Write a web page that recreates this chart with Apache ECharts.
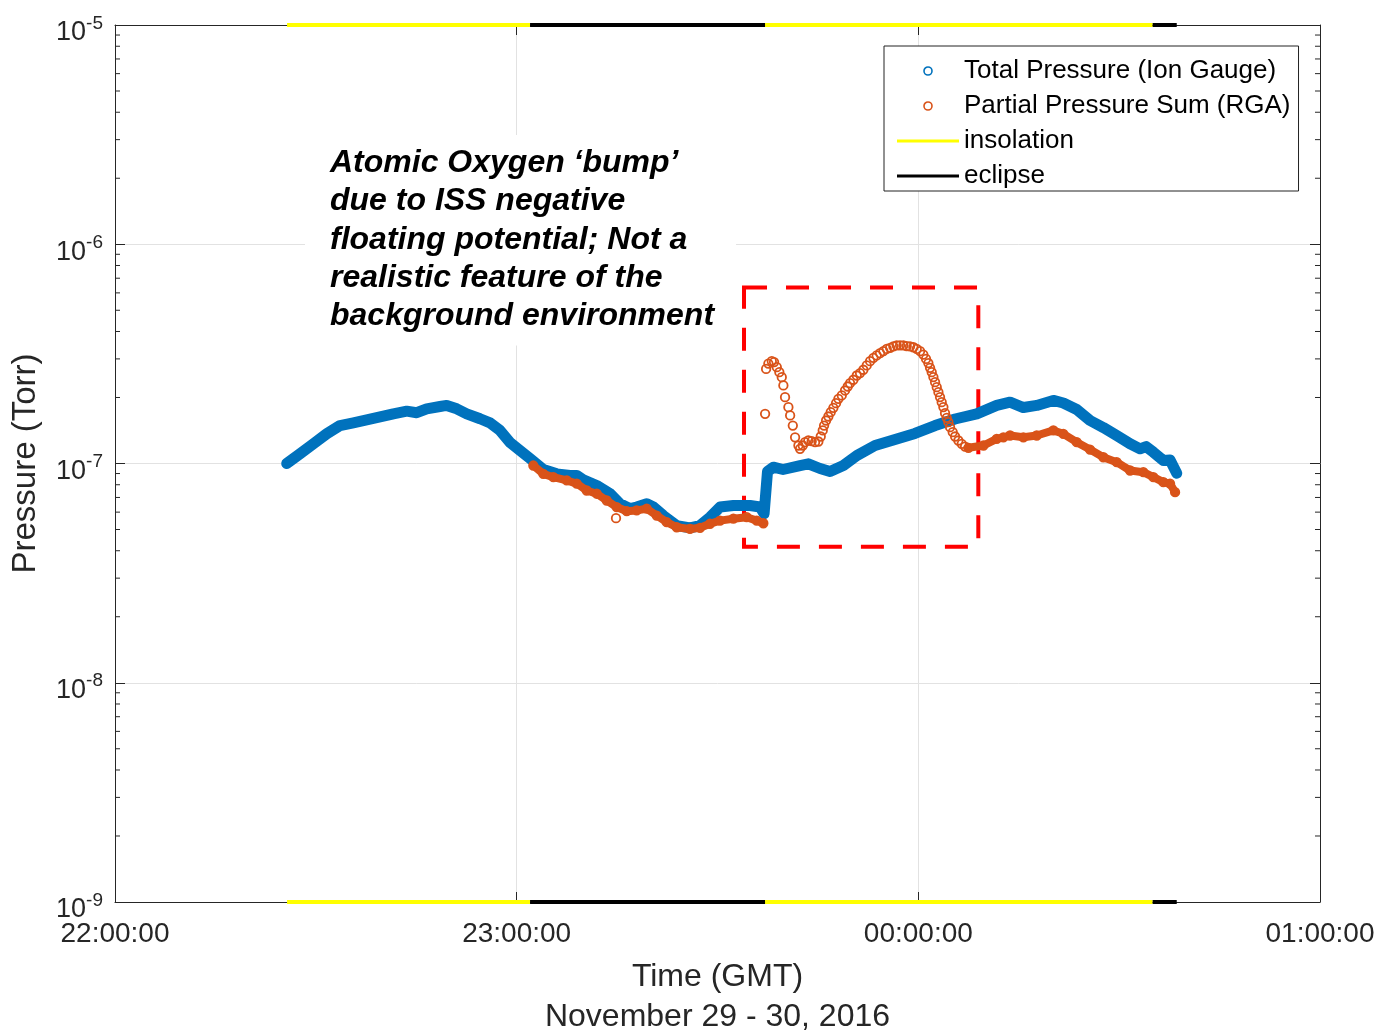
<!DOCTYPE html>
<html>

<head>
    <meta charset="utf-8" />
    <script src="https://cdn.jsdelivr.net/npm/echarts@6/dist/echarts.min.js"></script>
    <style>
        html, body { margin: 0; padding: 0; background: #fff; }
    </style>
</head>

<body>
    <div id="main" style="width: 1382px;height:1031px;"></div>
    <script type="text/javascript">
        const FONT = '"Liberation Sans", Arial, Helvetica, sans-serif';
        const AXIS_COLOR = '#262626';

        // x values are minutes after 22:00:00 GMT (Nov 29)
        const xTickLabels = ['22:00:00', '23:00:00', '00:00:00', '01:00:00'];

        // total pressure, ion gauge
        const ionTime = [25.65, 27.64, 29.62, 31.63, 33.61, 35.60, 37.60, 39.59, 41.58, 43.58,
            45.07, 46.56, 48.55, 49.55, 51.05, 52.54, 54.53, 56.02, 57.51, 59.01,
            60.50, 62.00, 63.98, 65.98, 67.97, 68.97, 69.96, 71.96, 73.95, 75.44,
            76.94, 77.94, 79.43, 80.42, 81.91, 83.91, 85.90, 87.39, 88.89, 90.38,
            92.37, 94.86, 96.36, 96.96, 97.47, 98.34, 99.79, 102.33, 103.57, 105.32,
            106.81, 108.80, 110.80, 113.53, 116.52, 119.50, 122.50, 125.49, 128.73, 131.71,
            133.70, 135.69, 137.69, 140.17, 141.66, 143.66, 145.65, 147.64, 149.63, 151.63,
            153.12, 154.02, 155.11, 156.60, 157.60, 158.60];
        const ionPressure = [1.00e-7, 1.107e-7, 1.23e-7, 1.367e-7, 1.49e-7, 1.533e-7, 1.58e-7, 1.63e-7, 1.685e-7, 1.733e-7,
            1.705e-7, 1.776e-7, 1.82e-7, 1.84e-7, 1.776e-7, 1.685e-7, 1.60e-7, 1.533e-7, 1.415e-7, 1.247e-7,
            1.146e-7, 1.054e-7, 9.39e-8, 8.97e-8, 8.82e-8, 8.82e-8, 8.43e-8, 7.94e-8, 7.28e-8, 6.55e-8,
            6.22e-8, 6.33e-8, 6.55e-8, 6.33e-8, 5.79e-8, 5.21e-8, 5.09e-8, 5.21e-8, 5.69e-8, 6.33e-8,
            6.43e-8, 6.43e-8, 6.33e-8, 5.90e-8, 9.20e-8, 9.62e-8, 9.39e-8, 9.79e-8, 9.97e-8, 9.49e-8,
            9.19e-8, 9.79e-8, 1.087e-7, 1.208e-7, 1.286e-7, 1.371e-7, 1.49e-7, 1.596e-7, 1.685e-7, 1.84e-7,
            1.905e-7, 1.80e-7, 1.84e-7, 1.94e-7, 1.888e-7, 1.764e-7, 1.571e-7, 1.459e-7, 1.342e-7, 1.23e-7,
            1.167e-7, 1.195e-7, 1.126e-7, 1.032e-7, 1.037e-7, 9.03e-8];

        // partial pressure sum, RGA
        const rgaTime = [62.49, 63.98, 65.48, 67.48, 68.97, 70.46, 71.96, 73.45, 74.94, 76.44,
            77.93, 79.43, 80.92, 82.41, 83.91, 85.89, 87.39, 88.88, 90.38, 92.37,
            94.36, 95.86, 96.85,
            97.26, 97.60, 98.11, 98.45, 98.86, 99.24, 99.60, 99.84, 100.09, 100.59,
            100.85, 101.25, 101.59, 102.09, 102.33, 102.73, 103.08, 103.57, 104.07, 104.57,
            105.07, 105.42, 105.72, 105.92, 106.22, 106.56, 106.91, 107.31, 107.71, 108.06,
            108.56, 109.05, 109.45, 109.80, 110.30, 110.80, 111.29, 111.79, 112.29, 112.79,
            113.29, 113.78, 114.28, 114.78, 115.28, 115.78, 116.27, 116.77, 117.27, 117.77,
            118.26, 118.76, 119.26, 119.76, 120.26, 120.75, 121.15, 121.50, 121.75, 122.00,
            122.25, 122.50, 122.75, 123.00, 123.24, 123.49, 123.74, 123.99, 124.24, 124.49,
            124.74, 125.14, 125.49, 125.98, 126.48, 126.98,
            127.48, 129.73, 131.71, 132.70, 133.70, 135.69, 137.69, 140.17, 141.66, 143.66,
            145.65, 147.64, 149.63, 151.63, 153.61, 155.11, 156.60, 157.60, 158.35];
        const rgaPressure = [9.79e-8, 8.97e-8, 8.66e-8, 8.37e-8, 8.10e-8, 7.53e-8, 7.28e-8, 6.78e-8, 6.33e-8, 6.06e-8,
            6.11e-8, 6.22e-8, 5.79e-8, 5.40e-8, 5.12e-8, 5.03e-8, 5.09e-8, 5.31e-8, 5.49e-8, 5.60e-8,
            5.69e-8, 5.49e-8, 5.34e-8,
            2.70e-7, 2.855e-7, 2.93e-7, 2.90e-7, 2.75e-7, 2.61e-7, 2.477e-7, 2.27e-7, 2.006e-7, 1.806e-7,
            1.656e-7, 1.49e-7, 1.317e-7, 1.208e-7, 1.167e-7, 1.208e-7, 1.251e-7, 1.273e-7, 1.264e-7, 1.251e-7,
            1.260e-7, 1.328e-7, 1.415e-7, 1.49e-7, 1.571e-7, 1.638e-7, 1.715e-7, 1.795e-7, 1.885e-7, 1.973e-7,
            2.043e-7, 2.153e-7, 2.245e-7, 2.325e-7, 2.41e-7, 2.52e-7, 2.584e-7, 2.677e-7, 2.80e-7, 2.93e-7,
            3.033e-7, 3.11e-7, 3.185e-7, 3.254e-7, 3.33e-7, 3.37e-7, 3.42e-7, 3.46e-7, 3.46e-7, 3.46e-7,
            3.43e-7, 3.42e-7, 3.39e-7, 3.33e-7, 3.254e-7, 3.14e-7, 3.00e-7, 2.87e-7, 2.73e-7, 2.61e-7,
            2.478e-7, 2.35e-7, 2.23e-7, 2.115e-7, 2.008e-7, 1.905e-7, 1.808e-7, 1.697e-7, 1.616e-7, 1.544e-7,
            1.464e-7, 1.39e-7, 1.328e-7, 1.273e-7, 1.229e-7, 1.195e-7,
            1.179e-7, 1.208e-7, 1.296e-7, 1.317e-7, 1.342e-7, 1.317e-7, 1.342e-7, 1.415e-7, 1.366e-7, 1.251e-7,
            1.158e-7, 1.068e-7, 1.014e-7, 9.29e-8, 9.13e-8, 8.66e-8, 8.22e-8, 8.10e-8, 7.40e-8];
        const rgaOutlierTime = [74.84, 97.11];
        const rgaOutlierPressure = [5.63e-8, 1.685e-7];
        // inside this window the RGA samples are sparse (drawn as loose circles)
        const bumpWindow = [97.0, 127.0];

        // sun / shadow spans, drawn along top and bottom of the axes
        const insolationSpans = [[25.7, 62.0], [97.1, 155.0]];
        const eclipseSpans = [[62.0, 97.1], [155.0, 158.6]];

        // dashed highlight box
        const boxTime = [93.96, 128.96];
        const boxPressure = [6.35e-7, 4.17e-8];

        const noteLines = [
            'Atomic Oxygen \u2018bump\u2019',
            'due to ISS negative',
            'floating potential; Not a',
            'realistic feature of the',
            'background environment'
        ];

        const ION = 'Total Pressure (Ion Gauge)';
        const RGA = 'Partial Pressure Sum (RGA)';
        const BLUE = '#0072BD';
        const ORANGE = '#D95319';

        const zip = (xs, ys) => xs.map((x, i) => [x, ys[i]]);

        function edgeData(spans) {
            const d = [];
            spans.forEach(s => {
                d.push([s[0], 1e-5], [s[1], 1e-5], ['-', '-'], [s[0], 1e-9], [s[1], 1e-9], ['-', '-']);
            });
            return d;
        }

        // RGA dense stretches get a band underneath the circles
        const rgaBand = [];
        rgaTime.forEach((t, i) => {
            if (t < bumpWindow[0]) rgaBand.push([t, rgaPressure[i]]);
        });
        rgaBand.push(['-', '-']);
        rgaTime.forEach((t, i) => {
            if (t > bumpWindow[1]) rgaBand.push([t, rgaPressure[i]]);
        });

        // log minor ticks 2..9 per decade
        const minorTicks = [];
        for (let e = -9; e < -5; e++) {
            for (let m = 2; m <= 9; m++) minorTicks.push([0, m * Math.pow(10, e)]);
        }

        const myChart = echarts.init(document.getElementById('main'), null, { renderer: 'canvas' });

        const sideAxis = {
            axisLine: { show: true, onZero: false, lineStyle: { color: AXIS_COLOR, width: 1 } },
            axisTick: { show: true, inside: true, length: 10, lineStyle: { color: AXIS_COLOR } },
        };
        // flat bar used as legend sample for the sun/shadow lines
        const lineIcon = 'path://M0,0L62,0L62,3L0,3Z';

        const option = {
            animation: false,
            backgroundColor: '#fff',
            grid: { left: 115, right: 62, top: 25, bottom: 129, containLabel: false, outerBoundsMode: 'none' },
            legend: {
                orient: 'vertical',
                left: 884,
                top: 46,
                padding: [11, 8, 1, 13],
                itemGap: 7,
                itemWidth: 62,
                itemHeight: 8,
                backgroundColor: '#fff',
                borderColor: '#222',
                borderWidth: 1,
                selectedMode: false,
                textStyle: { fontFamily: FONT, fontSize: 26, color: '#000', lineHeight: 28 },
                data: [
                    { name: ION, icon: 'circle', itemStyle: { color: 'rgba(0,0,0,0)', borderColor: BLUE, borderWidth: 1.6 } },
                    { name: RGA, icon: 'circle', itemStyle: { color: 'rgba(0,0,0,0)', borderColor: ORANGE, borderWidth: 1.6 } },
                    { name: 'insolation', icon: lineIcon, itemStyle: { color: '#FFFF00', borderWidth: 0 } },
                    { name: 'eclipse', icon: lineIcon, itemStyle: { color: '#000', borderWidth: 0 } }
                ]
            },
            xAxis: [{
                type: 'value',
                min: 0,
                max: 180,
                interval: 60,
                name: 'Time (GMT)\nNovember 29 - 30, 2016',
                nameLocation: 'middle',
                nameGap: 55,
                nameTextStyle: { fontFamily: FONT, fontSize: 32, lineHeight: 40, color: AXIS_COLOR },
                axisLine: sideAxis.axisLine,
                axisTick: sideAxis.axisTick,
                axisLabel: {
                    margin: 18,
                    fontFamily: FONT,
                    fontSize: 28,
                    color: AXIS_COLOR,
                    formatter: v => xTickLabels[Math.round(v / 60)]
                },
                splitLine: { show: true, lineStyle: { color: '#e2e2e2', width: 1 } }
            }, {
                type: 'value',
                position: 'top',
                min: 0,
                max: 180,
                interval: 60,
                axisLine: sideAxis.axisLine,
                axisTick: sideAxis.axisTick,
                axisLabel: { show: false },
                splitLine: { show: false }
            }],
            yAxis: [{
                type: 'log',
                logBase: 10,
                min: 1e-9,
                max: 1e-5,
                name: 'Pressure (Torr)',
                nameLocation: 'middle',
                nameGap: 73,
                nameTextStyle: { fontFamily: FONT, fontSize: 33, color: AXIS_COLOR },
                axisLine: sideAxis.axisLine,
                axisTick: sideAxis.axisTick,
                axisLabel: {
                    margin: 12,
                    formatter: v => '{b|10}{s|' + Math.round(Math.log10(v)) + '}',
                    rich: {
                        b: { fontFamily: FONT, fontSize: 27, color: AXIS_COLOR, padding: [16, 0, 0, 0] },
                        s: { fontFamily: FONT, fontSize: 19, color: AXIS_COLOR, padding: [0, 0, 3, 0] }
                    }
                },
                splitLine: { show: true, lineStyle: { color: '#e2e2e2', width: 1 } }
            }, {
                type: 'log',
                logBase: 10,
                min: 1e-9,
                max: 1e-5,
                position: 'right',
                axisLine: sideAxis.axisLine,
                axisTick: sideAxis.axisTick,
                axisLabel: { show: false },
                splitLine: { show: false }
            }],
            series: [{
                name: ION,
                type: 'line',
                data: zip(ionTime, ionPressure),
                symbol: 'none',
                silent: true,
                z: 2,
                itemStyle: { color: BLUE },
                lineStyle: { color: BLUE, width: 11, cap: 'round', join: 'round' }
            }, {
                name: RGA,
                type: 'scatter',
                data: zip(rgaTime, rgaPressure).concat(zip(rgaOutlierTime, rgaOutlierPressure)),
                symbol: 'circle',
                symbolSize: 8.5,
                silent: true,
                z: 4,
                itemStyle: { color: 'rgba(0,0,0,0)', borderColor: ORANGE, borderWidth: 1.8, opacity: 1 }
            }, {
                name: 'rga-band',
                type: 'line',
                data: rgaBand,
                symbol: 'none',
                silent: true,
                z: 3,
                lineStyle: { color: ORANGE, width: 8, cap: 'round', join: 'round' }
            }, {
                name: 'insolation',
                type: 'line',
                data: edgeData(insolationSpans),
                symbol: 'none',
                clip: false,
                silent: true,
                z: 7,
                itemStyle: { color: '#FFFF00' },
                lineStyle: { color: '#FFFF00', width: 4 }
            }, {
                name: 'eclipse',
                type: 'line',
                data: edgeData(eclipseSpans),
                symbol: 'none',
                clip: false,
                silent: true,
                z: 7,
                itemStyle: { color: '#000' },
                lineStyle: { color: '#000', width: 4 }
            }, {
                name: 'bump-box',
                type: 'line',
                data: [],
                z: 8,
                markArea: {
                    silent: true,
                    label: { show: false },
                    itemStyle: {
                        color: 'rgba(0,0,0,0)',
                        borderColor: '#FF0000',
                        borderWidth: 4,
                        borderType: [23, 19]
                    },
                    data: [[{ coord: [boxTime[0], boxPressure[0]] }, { coord: [boxTime[1], boxPressure[1]] }]]
                }
            }, {
                name: 'minor-ticks',
                type: 'custom',
                silent: true,
                z: 6,
                clip: false,
                data: minorTicks,
                renderItem: (params, api) => {
                    const l = api.coord([0, api.value(1)]);
                    const r = api.coord([180, api.value(1)]);
                    const st = { stroke: AXIS_COLOR, lineWidth: 1 };
                    return {
                        type: 'group',
                        children: [
                            { type: 'line', shape: { x1: l[0], y1: l[1], x2: l[0] + 5, y2: l[1] }, style: st },
                            { type: 'line', shape: { x1: r[0] - 5, y1: r[1], x2: r[0], y2: r[1] }, style: st }
                        ]
                    };
                }
            }],
            graphic: [{
                type: 'text',
                left: 305,
                top: 135,
                z: 10,
                style: {
                    text: noteLines.join('\n'),
                    fontFamily: FONT,
                    fontStyle: 'italic',
                    fontWeight: 'bold',
                    fontSize: 32,
                    lineHeight: 38.3,
                    fill: '#000',
                    backgroundColor: '#fff',
                    padding: [9, 22, 10, 25]
                }
            }]
        };

        myChart.setOption(option);
        window.addEventListener('resize', myChart.resize);
    </script>
</body>

</html>
